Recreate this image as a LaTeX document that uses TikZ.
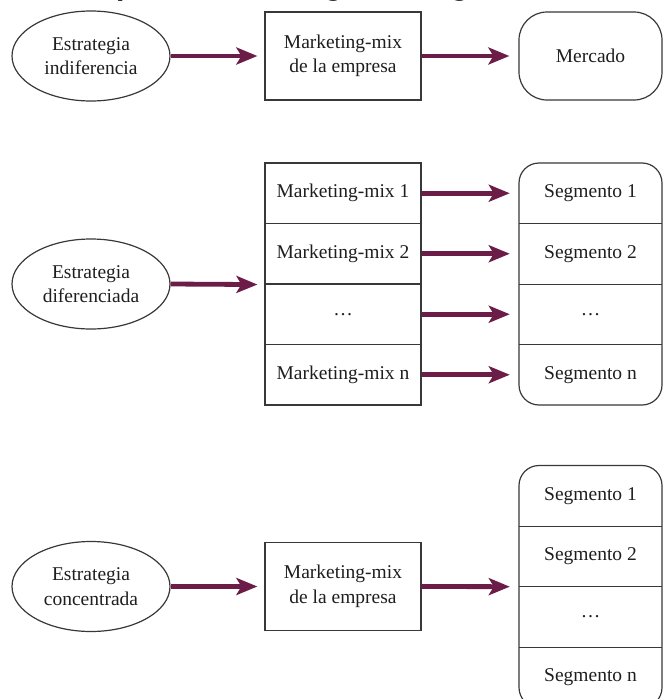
\documentclass[tikz,border=0pt]{standalone}
\usepackage{fontspec}
\setmainfont{Liberation Serif}
\usetikzlibrary{arrows.meta,shapes.geometric}
\definecolor{arrowcol}{HTML}{6B1D48}
\definecolor{linecol}{HTML}{383838}
\definecolor{textcol}{HTML}{1E1E1E}

\begin{document}
\begin{tikzpicture}[x=1pt,y=-1pt,
  every node/.style={font=\fontsize{19.5}{24.5}\selectfont, text=textcol},
  oval/.style={ellipse, draw=linecol, line width=1.2pt, minimum width=158pt,
    minimum height=90pt, inner sep=0pt, align=center},
  mixbox/.style={rectangle, draw=linecol, line width=1.2pt, minimum width=156pt,
    minimum height=88pt, inner sep=0pt, align=center},
  cell/.style={rectangle, draw=linecol, line width=1.2pt, minimum width=156pt,
    minimum height=60.5pt, inner sep=0pt},
  segcell/.style={rectangle, minimum width=143pt, minimum height=60.5pt, inner sep=0pt},
  column/.style={rectangle, rounded corners=20pt, draw=linecol, line width=1.2pt,
    minimum width=143pt, inner sep=0pt},
  sep/.style={draw=linecol, line width=1.2pt},
  flow/.style={draw=arrowcol, line width=4.8pt,
    -{Stealth[length=21pt,width=17pt,inset=5pt]}, shorten >=7pt},
]
\useasboundingbox (0,0) rectangle (664,699);
\clip (0,0) rectangle (664,699);

% heading, cut by the top edge
\node[anchor=base, text=black,
  font=\bfseries\itshape\fontsize{32}{36}\selectfont]
  (title) at (338,-6) {Gráfico 4.4. Estrategias de segmentación};

% undifferentiated strategy
\node[oval] (e1) at (91,56) {Estrategia\\indiferencia};
\node[mixbox] (b1) at (343,56) {Marketing-mix\\de la empresa};
\node[column, rounded corners=28pt, minimum height=88pt] (m1) at (590.5,56) {Mercado};
\draw[flow] (e1.east) -- (b1.west);
\draw[flow, shorten >=9pt] (b1.east) -- (m1.west);

% differentiated strategy
\node[oval] (e2) at (91,284) {Estrategia\\diferenciada};
\node[cell] (d1) at (343,193.25) {Marketing-mix 1};
\node[cell] (d2) at (343,253.75) {Marketing-mix 2};
\node[cell] (d3) at (343,314.25) {\dots};
\node[cell] (d4) at (343,374.75) {Marketing-mix n};
\node[column, minimum height=242pt] (c2) at (590.5,284) {};
\node[segcell] (t1) at (590.5,193.25) {Segmento 1};
\node[segcell] (t2) at (590.5,253.75) {Segmento 2};
\node[segcell] (t3) at (590.5,314.25) {\dots};
\node[segcell] (t4) at (590.5,374.75) {Segmento n};
\foreach \i in {1,2,3} \draw[sep] (t\i.south west) -- (t\i.south east);
\draw[flow] (e2.east) -- (d2.south west);
\foreach \i in {1,...,4} \draw[flow, shorten >=9pt] (d\i.east) -- (t\i.west);

% concentrated strategy
\node[oval] (e3) at (91,586.5) {Estrategia\\concentrada};
\node[mixbox] (b3) at (343,586.5) {Marketing-mix\\de la empresa};
\node[column, minimum height=242pt] (c3) at (590.5,586.5) {};
\node[segcell] (u1) at (590.5,495.75) {Segmento 1};
\node[segcell] (u2) at (590.5,556.25) {Segmento 2};
\node[segcell] (u3) at (590.5,616.75) {\dots};
\node[segcell] (u4) at (590.5,677.25) {Segmento n};
\foreach \i in {1,2,3} \draw[sep] (u\i.south west) -- (u\i.south east);
\draw[flow] (e3.east) -- (b3.west);
\draw[flow, shorten >=9pt] (b3.east) -- (u2.south west);
\end{tikzpicture}
\end{document}
